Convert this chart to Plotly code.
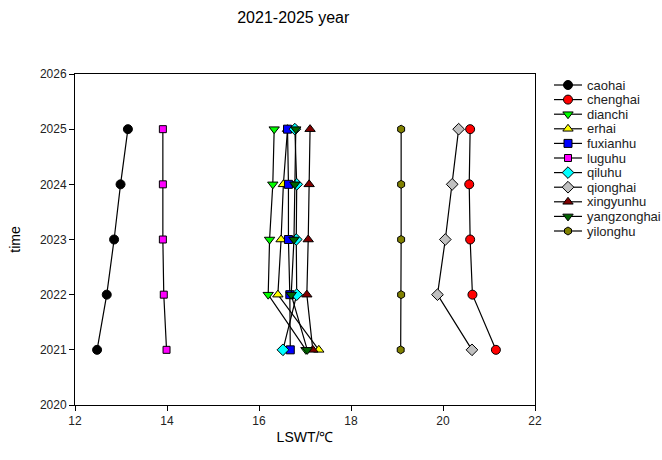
import plotly.graph_objects as go

years = [2021, 2022, 2023, 2024, 2025]
lakes = ["caohai", "chenghai", "dianchi", "erhai", "fuxianhu", "luguhu",
         "qiluhu", "qionghai", "xingyunhu", "yangzonghai", "yilonghu"]

caohai = [12.48, 12.69, 12.85, 12.99, 13.15]
chenghai = [21.15, 20.64, 20.59, 20.57, 20.59]
dianchi = [17.02, 16.20, 16.23, 16.30, 16.33]
erhai = [17.30, 16.41, 16.48, 16.53, 16.62]
fuxianhu = [16.68, 16.67, 16.64, 16.64, 16.62]
luguhu = [13.99, 13.93, 13.91, 13.91, 13.91]
qiluhu = [16.52, 16.82, 16.81, 16.82, 16.78]
qionghai = [20.63, 19.88, 20.05, 20.20, 20.34]
xingyunhu = [17.17, 17.04, 17.07, 17.09, 17.11]
yangzonghai = [17.05, 16.70, 16.76, 16.78, 16.80]
yilonghu = [19.08, 19.09, 19.09, 19.09, 19.09]

values = [caohai, chenghai, dianchi, erhai, fuxianhu, luguhu,
          qiluhu, qionghai, xingyunhu, yangzonghai, yilonghu]

styles = [
    ("circle", "#000000", 9),
    ("circle", "#ff0000", 9),
    ("triangle-down", "#00ff00", 9),
    ("triangle-up", "#ffff00", 9),
    ("square", "#0000ff", 8),
    ("square", "#ff00ff", 7),
    ("diamond", "#00ffff", 9),
    ("diamond", "#c0c0c0", 9),
    ("triangle-up", "#800000", 9),
    ("triangle-down", "#006400", 9),
    ("hexagon", "#808000", 8),
]

W, H = 662, 460
L, R, T, B = 75, 535, 74, 405  # plot box in pixels

fig = go.Figure()
for name, vals, (sym, col, sz) in zip(lakes, values, styles):
    fig.add_trace(go.Scatter(
        x=vals, y=years, mode="lines+markers", name=name, showlegend=False,
        line=dict(color="black", width=1.2),
        marker=dict(symbol=sym, color=col, size=sz,
                    line=dict(color="black", width=1)),
        xaxis="x", yaxis="y",
    ))

# Custom legend drawn on a pixel-scaled helper axis
leg_x0, leg_x1, leg_text = 554, 582, 587
leg_y0, leg_dy = 85, 14.6
for i, (name, (sym, col, sz)) in enumerate(zip(lakes, styles)):
    yy = leg_y0 + i * leg_dy
    fig.add_trace(go.Scatter(
        x=[leg_x0, leg_x1], y=[yy, yy], mode="lines", showlegend=False,
        line=dict(color="black", width=1.2), hoverinfo="skip",
        xaxis="x2", yaxis="y2",
    ))
    fig.add_trace(go.Scatter(
        x=[(leg_x0 + leg_x1) / 2], y=[yy], mode="markers", showlegend=False,
        marker=dict(symbol=sym, color=col, size=sz,
                    line=dict(color="black", width=1)),
        hoverinfo="skip", xaxis="x2", yaxis="y2",
    ))
    fig.add_annotation(x=leg_text, y=yy, xref="x2", yref="y2", text=name,
                       showarrow=False, xanchor="left", yanchor="middle",
                       xshift=-2, font=dict(size=13, color="#222222"))

axis_common = dict(showline=True, linecolor="black", linewidth=1, mirror=True,
                   ticks="outside", ticklen=5, tickcolor="black",
                   showgrid=False, zeroline=False,
                   tickfont=dict(size=12, color="#222222"))

plot_w = W - L
fig.update_layout(
    width=W, height=H,
    margin=dict(l=L, r=0, t=T, b=H - B, autoexpand=False),
    paper_bgcolor="white", plot_bgcolor="rgba(0,0,0,0)",
    font=dict(family="Liberation Sans, Arial, sans-serif", color="black"),
    title=dict(text="2021-2025 year", x=0.443, xref="container", xanchor="center",
               y=0.962, yref="container", yanchor="middle", font=dict(size=16)),
    xaxis=dict(range=[12, 22], dtick=2, tick0=12,
               domain=[0, (R - L) / plot_w], anchor="y",
               title=dict(text="LSWT/℃", font=dict(size=14), standoff=4),
               **axis_common),
    yaxis=dict(range=[2020, 2026], dtick=1, tick0=2020, anchor="x",
               domain=[0, 1],
               title=dict(text="time", font=dict(size=14), standoff=15),
               **axis_common),
    xaxis2=dict(range=[L, W], domain=[0, 1], anchor="y2", visible=False,
                fixedrange=True),
    yaxis2=dict(range=[B, T], domain=[0, 1], anchor="x2", visible=False,
                fixedrange=True),
    showlegend=False,
)

fig.write_html("out.html")
